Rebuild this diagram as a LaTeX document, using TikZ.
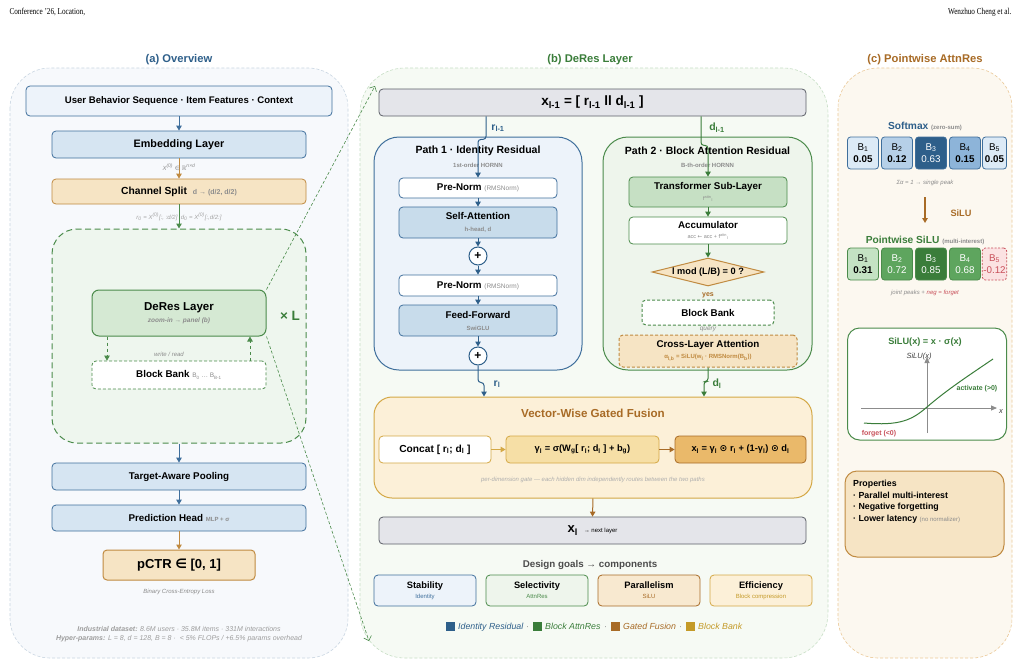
\documentclass[tikz,border=0pt]{standalone}
\usepackage{fontspec}
\setmainfont{Liberation Sans}
\newfontfamily\mysym{DejaVu Sans}
\newfontfamily\hdrfont[FakeStretch=0.8]{Liberation Serif}
\usetikzlibrary{arrows.meta,shapes.geometric}
\newcommand{\fsz}[1]{\fontsize{#1}{#1}\selectfont}
\newcommand{\tsb}[1]{\textsubscript{#1}}
\newcommand{\tsp}[1]{\textsuperscript{#1}}
\definecolor{blueD}{HTML}{2E5F8A}
\definecolor{blueB}{HTML}{3F6F9C}
\definecolor{blueF1}{HTML}{EDF3FA}
\definecolor{blueF2}{HTML}{D6E5F2}
\definecolor{blueF3}{HTML}{C8DCEB}
\definecolor{greenD}{HTML}{3A7D3A}
\definecolor{greenB}{HTML}{4B8B4B}
\definecolor{greenF0}{HTML}{EEF6EE}
\definecolor{greenF1}{HTML}{EEF5EC}
\definecolor{greenF2}{HTML}{D5E9D3}
\definecolor{greenF3}{HTML}{C6E0C4}
\definecolor{brD}{HTML}{A86B26}
\definecolor{brB}{HTML}{C08A40}
\definecolor{orF}{HTML}{F6E4C4}
\definecolor{goldB}{HTML}{D4A845}
\definecolor{goldF}{HTML}{FCF0D8}
\definecolor{gamF}{HTML}{F6DFA6}
\definecolor{xlF}{HTML}{EAB96A}
\definecolor{grayT}{HTML}{8C8C8C}
\definecolor{grayF}{HTML}{E4E5EA}
\definecolor{grayB}{HTML}{5C5F68}
\definecolor{redT}{HTML}{C8505A}
\definecolor{redF}{HTML}{FBE2E2}
\definecolor{panAf}{HTML}{F7F9FC}
\definecolor{panAb}{HTML}{C9D6E2}
\definecolor{panBf}{HTML}{F6FAF4}
\definecolor{panBb}{HTML}{C6DEC4}
\definecolor{panCf}{HTML}{FCF8F0}
\definecolor{panCb}{HTML}{EBC998}
\definecolor{goldT}{HTML}{C49A28}
\definecolor{sm1}{HTML}{DCEAF6}
\definecolor{sm2}{HTML}{B6D0E8}
\definecolor{sm4}{HTML}{8DB4D9}
\definecolor{sl1}{HTML}{C4E2C3}
\definecolor{sl2}{HTML}{5EA55E}
\begin{document}
\begin{tikzpicture}[x=1pt,y=-1pt,
  arr/.style={-{Triangle[length=5pt,width=5.5pt]}, line width=1pt},
  bx/.style={draw, rounded corners=4pt, line width=0.8pt, align=center, inner sep=1pt},
  sz/.style 2 args={minimum width=#1pt, minimum height=#2pt},
  lsk/.style={font=\fontsize{6}{#1}\selectfont},
  panel/.style={dash pattern=on 3pt off 2pt, line width=0.6pt},
  note/.style={font=\itshape\fsz{6}, text=grayT},
  ttl/.style={font=\bfseries\fsz{11.2}},
  sq/.style={minimum size=9pt, inner sep=0pt},
  leg/.style={anchor=base west, inner sep=0pt, font=\itshape\fsz{8.8}},
  val/.style={bx, rounded corners=3pt, sz={31}{32}, font=\fontsize{9.8}{12.5}\selectfont, draw=blueB}
]
\useasboundingbox[fill=white] (0,0) rectangle (1021,667);
% header
\node[anchor=west, font=\hdrfont\fsz{9}] (hl) at (6,12) {Conference ’26, Location,};
\node[anchor=east, font=\hdrfont\fsz{9}] (hr) at (1015,12) {Wenzhuo Cheng et al.};

% ================= panel (a)
\draw[panel, draw=panAb, fill=panAf, rounded corners=40pt] (10,68) rectangle (348,658);
\node[ttl, text=blueD] (ta) at (179,60) {(a) Overview};
\node[bx, sz={306}{30}, fill=blueF1, draw=blueB, font=\bfseries\fsz{9.6}] (inp) at (179,101) {User Behavior Sequence · Item Features · Context};
\node[bx, sz={254}{27}, fill=blueF2, draw=blueB, font=\bfseries\fsz{10.8}] (emb) at (179,144.5) {Embedding Layer};
\node[bx, sz={254}{25}, fill=orF, draw=brB, font=\bfseries\fsz{10.3}] (split) at (179,191.5) {Channel Split\hspace{6pt}{\fsz{7}\color{grayT}d → (d/2, d/2)}};
\node[draw=greenB, dash pattern=on 6pt off 3.5pt, line width=1pt, fill=greenF0, rounded corners=25pt, sz={254}{214}] (loop) at (179,336) {};
\node[bx, lsk=12, sz={174}{46}, fill=greenF2, draw=greenB, rounded corners=7pt, line width=1pt] (deres) at (179,313) {{\bfseries\fsz{11.5}DeRes Layer}\\{\bfseries\itshape\fsz{6.5}\color{grayT}zoom-in → panel (b)}};
\node[font=\bfseries\fsz{13.5}, text=greenD] (xL) at (290,316) {× L};
\node[bx, dash pattern=on 3pt off 2pt, sz={174}{28}, fill=white, draw=greenB] (bank) at (179,375) {{\bfseries\fsz{9.8}Block Bank} {\fsz{6.5}\color{grayT}B\tsb{0} … B\tsb{B-1}}};
\draw[arr, dashed, greenB, line width=0.8pt] ([xshift=-72pt]deres.south) -- ([xshift=-72pt]bank.north);
\draw[arr, dashed, greenB, line width=0.8pt] ([xshift=71pt]bank.north) -- ([xshift=71pt]deres.south);
\node[note] (wr) at (169,354) {write / read};
\node[bx, sz={254}{27}, fill=blueF2, draw=blueB, font=\bfseries\fsz{9.8}] (pool) at (179,476.5) {Target-Aware Pooling};
\node[bx, sz={254}{26}, fill=blueF2, draw=blueB, font=\bfseries\fsz{9.8}] (head) at (179,518) {Prediction Head {\fsz{6}\color{grayT}MLP + σ}};
\node[bx, sz={152}{30}, fill=orF, draw=brB, line width=1pt, font=\bfseries\fsz{13}] (pctr) at (179,565) {pCTR {\mysym ∈} [0, 1]};
\node[note] (bce) at (179,592) {Binary Cross-Entropy Loss};
\node[font=\itshape\fsz{7}, text=grayT!85] (ds) at (179,629) {\bfseries Industrial dataset: \mdseries 8.6M users · 35.8M items · 331M interactions};
\node[font=\itshape\fsz{7}, text=grayT!85] (hp) at (179,639) {\bfseries Hyper-params: \mdseries L = 8, d = 128, B = 8 ·\ \ < 5\% FLOPs / +6.5\% params overhead};
\draw[arr, blueB] (inp) -- (emb);
\draw[arr, brB] (emb) -- (split);
\node[font=\itshape\fsz{6}, text=grayT] (x0) at (179,167) {X\tsp{(0)} {\mysym ∈} {\mysym ℝ}\tsp{n×d}};
\draw[arr, greenB] (split) -- (loop.north);
\node[font=\itshape\fsz{6}, text=grayT!80] (r0) at (179,217) {r\tsb{0} = X\tsp{(0)}[:, :d/2]\ \ d\tsb{0} = X\tsp{(0)}[:,d/2:]};
\draw[arr, blueB] (loop.south) -- (pool);
\draw[arr, blueB] (pool) -- (head);
\draw[arr, brB] (head) -- (pctr);

% ================= panel (b)
\draw[panel, draw=panBb, fill=panBf, rounded corners=45pt] (360,68) rectangle (828,658);
\node[ttl, text=greenD] (tb) at (590,60) {(b) DeRes Layer};
\coordinate (zA) at (375,86);
\coordinate (zB) at (369,641);
\draw[greenB, dash pattern=on 3pt off 2pt, line width=0.6pt, -{Straight Barb[length=4pt]}] (deres.north east) -- (zA);
\draw[greenB, dash pattern=on 3pt off 2pt, line width=0.6pt, -{Straight Barb[length=4pt]}] (deres.south east) -- (zB);
\node[bx, sz={427}{27}, fill=grayF, draw=grayB, font=\bfseries\fsz{13.5}] (xin) at (592.5,102.5) {x\tsb{l-1} = [ r\tsb{l-1} ll d\tsb{l-1} ]};
% path 1
\node[bx, sz={208}{233}, fill=blueF1, draw=blueB, rounded corners=25pt, line width=1pt] (p1) at (478,253.5) {};
\node[font=\bfseries\fsz{10.5}] (p1t) at (478,151) {Path 1 · Identity Residual};
\node[font=\bfseries\fsz{6}, text=grayT] (p1s) at (478,165) {1st-order HORNN};
\node[bx, sz={158}{20}, fill=white, draw=blueB, font=\bfseries\fsz{9.8}] (pn1) at (478,188) {Pre-Norm {\mdseries\fsz{6.5}\color{grayT}(RMSNorm)}};
\node[bx, lsk=12, sz={158}{31}, fill=blueF3, draw=blueB] (sa) at (478,222.5) {{\bfseries\fsz{9.8}Self-Attention}\\{\bfseries\fsz{6}\color{grayT}h-head, d}};
\node[circle, draw=blueD, line width=1pt, fill=white, minimum size=18pt, inner sep=0pt, font=\bfseries\fsz{12}] (plus1) at (478,256) {+};
\node[bx, sz={158}{21}, fill=white, draw=blueB, font=\bfseries\fsz{9.8}] (pn2) at (478,285.5) {Pre-Norm {\mdseries\fsz{6.5}\color{grayT}(RMSNorm)}};
\node[bx, lsk=12, sz={158}{31}, fill=blueF3, draw=blueB] (ff) at (478,320.5) {{\bfseries\fsz{9.8}Feed-Forward}\\{\bfseries\fsz{6}\color{grayT}SwiGLU}};
\node[circle, draw=blueD, line width=1pt, fill=white, minimum size=18pt, inner sep=0pt, font=\bfseries\fsz{12}] (plus2) at (478,356) {+};
\draw[arr, blueD, rounded corners=3pt] ([xshift=-106.5pt]xin.south) -- ++(0,23) -| (pn1.north);
\node[font=\bfseries\fsz{10.5}, text=blueD] (rl1) at (498,128) {r\tsb{l-1}};
\draw[arr, blueD] (pn1) -- (sa);
\draw[arr, blueD] (sa) -- (plus1);
\draw[arr, blueD] (plus1) -- (pn2);
\draw[arr, blueD] (pn2) -- (ff);
\draw[arr, blueD] (ff) -- (plus2);
% path 2
\node[bx, sz={209}{233}, fill=greenF1, draw=greenB, rounded corners=25pt, line width=1pt] (p2) at (707.5,253.5) {};
\node[font=\bfseries\fsz{10.5}] (p2t) at (707.5,151) {Path 2 · Block Attention Residual};
\node[font=\bfseries\fsz{6}, text=grayT] (p2s) at (707.5,165) {B-th-order HORNN};
\node[bx, lsk=11, sz={158}{30}, fill=greenF3, draw=greenB] (ts) at (708,192) {{\bfseries\fsz{9.8}Transformer Sub-Layer}\\{\fsz{5.5}\color{grayT}f\tsp{attn}\tsb{l}}};
\node[bx, lsk=9.5, sz={158}{27}, fill=white, draw=greenB] (acc) at (708,230.5) {{\bfseries\fsz{9.8}Accumulator}\\{\fsz{5.5}\color{grayT}acc {\mysym ←} acc + f\tsp{attn}\tsb{l}}};
\node[diamond, draw=brB, fill=orF, line width=1pt, minimum width=112pt, minimum height=28pt, aspect=4, inner sep=0pt, font=\bfseries\fsz{9.2}] (dia) at (708,272) {l mod (L/B) = 0 ?};
\node[font=\bfseries\fsz{7}, text=brD] (yes) at (708,295) {yes};
\node[bx, dash pattern=on 3pt off 2pt, sz={132}{25}, fill=white, draw=greenB, line width=1pt, font=\bfseries\fsz{9.8}] (bb2) at (708,312.5) {Block Bank};
\node[font=\itshape\fsz{6.5}, text=grayT] (qry) at (708,329) {query};
\node[bx, lsk=11, dash pattern=on 3pt off 2pt, sz={178}{32}, fill=orF, draw=brB, line width=1pt] (cla) at (708,351) {{\bfseries\fsz{9.8}Cross-Layer Attention}\\{\bfseries\fsz{6}\color{brB}α\tsb{l,b} = SiLU(w\tsb{l} · RMSNorm(B\tsb{b}))}};
\draw[arr, greenD, rounded corners=3pt] ([xshift=108.5pt]xin.south) -- ++(0,29) -| (ts.north);
\node[font=\bfseries\fsz{10.5}, text=greenD] (dl1) at (717,128) {d\tsb{l-1}};
\draw[arr, greenD] (ts) -- (acc);
\draw[arr, greenD] (acc) -- (dia);
% fusion
\node[bx, sz={438}{101}, fill=goldF, draw=goldB, rounded corners=18pt, line width=1pt] (fusion) at (593,447.5) {};
\node[font=\bfseries\fsz{11.6}, text=brD] (ft) at (593,413) {Vector-Wise Gated Fusion};
\node[bx, sz={112}{27}, fill=white, draw=goldB, font=\bfseries\fsz{10.2}] (concat) at (435,449.5) {Concat [ r\tsb{l}; d\tsb{l} ]};
\node[bx, sz={153}{27}, fill=gamF, draw=goldB, font=\bfseries\fsz{9.3}] (gam) at (582.5,449.5) {γ\tsb{l} = σ(W\tsb{g}[ r\tsb{l}; d\tsb{l} ] + b\tsb{g})};
\node[bx, sz={131}{27}, fill=xlF, draw=brD, font=\bfseries\fsz{9.3}] (xl) at (740.5,449.5) {x\tsb{l} = γ\tsb{l} {\mysym ⊙} r\tsb{l} + (1-γ\tsb{l}) {\mysym ⊙} d\tsb{l}};
\draw[arr, goldB] (concat) -- (gam);
\draw[arr, brD] (gam) -- (xl);
\node[note, text=grayT!70] (fcap) at (593,480) {per-dimension gate — each hidden dim independently routes between the two paths};
\draw[arr, blueD, rounded corners=3pt] (plus2.south) -- ++(0,17) -| ([xshift=-109pt]fusion.north);
\node[font=\bfseries\fsz{10.5}, text=blueD] (rl) at (497,384) {r\tsb{l}};
\draw[arr, greenD, rounded corners=3pt] (cla.south) -- ++(0,14) -| ([xshift=111pt]fusion.north);
\node[font=\bfseries\fsz{10.5}, text=greenD] (dl) at (717,384) {d\tsb{l}};
\node[bx, sz={427}{27}, fill=grayF, draw=grayB] (xout) at (592.5,530.5) {{\bfseries\fsz{13}x\tsb{l}}\hspace{6pt}{\fsz{6}→ next layer}};
\draw[arr, brD] (fusion.south) -- (xout.north);
\node[font=\bfseries\fsz{9.8}, text=black!70] (dg) at (590,565) {Design goals → components};
\node[bx, lsk=10, sz={102}{31}, fill=blueF1, draw=blueB] (g1) at (425,590.5) {{\bfseries\fsz{9.3}Stability}\\{\fsz{6}\color{blueB}Identity}};
\node[bx, lsk=10, sz={102}{31}, fill=greenF1, draw=greenB] (g2) at (537,590.5) {{\bfseries\fsz{9.3}Selectivity}\\{\fsz{6}\color{greenB}AttnRes}};
\node[bx, lsk=10, sz={102}{31}, fill=orF!80, draw=brD] (g3) at (649,590.5) {{\bfseries\fsz{9.3}Parallelism}\\{\fsz{6}\color{brD}SiLU}};
\node[bx, lsk=10, sz={102}{31}, fill=goldF, draw=goldB] (g4) at (761,590.5) {{\bfseries\fsz{9.3}Efficiency}\\{\fsz{6}\color{goldT}Block compression}};
% legend
\node[sq, fill=blueD] (s1) at (450.5,626.5) {};
\node[leg, text=blueD] (l1) at (458,629.5) {Identity Residual};
\node[leg, text=grayT] (d1) at (526,629.5) {·};
\node[sq, fill=greenD] (s2) at (537.5,626.5) {};
\node[leg, text=greenD] (l2) at (545,629.5) {Block AttnRes};
\node[leg, text=grayT] (d2) at (604,629.5) {·};
\node[sq, fill=brD] (s3) at (615.5,626.5) {};
\node[leg, text=brD] (l3) at (623,629.5) {Gated Fusion};
\node[leg, text=grayT] (d3) at (679,629.5) {·};
\node[sq, fill=goldT] (s4) at (690.5,626.5) {};
\node[leg, text=goldT] (l4) at (698,629.5) {Block Bank};

% ================= panel (c)
\draw[panel, draw=panCb, fill=panCf, rounded corners=40pt] (838,68) rectangle (1012,658);
\node[ttl, text=brD] (tc) at (925,60) {(c) Pointwise AttnRes};
\node[font=\bfseries\fsz{10.2}, text=blueD] (smx) at (925,126) {Softmax {\fsz{6}\color{grayT}(zero-sum)}};
\node[val, fill=sm1] (a1) at (863,153) {B\tsb{1}\\\bfseries 0.05};
\node[val, fill=sm2] (a2) at (897,153) {B\tsb{2}\\\bfseries 0.12};
\node[val, fill=blueD, text=white] (a3) at (931,153) {B\tsb{3}\\0.63};
\node[val, fill=sm4] (a4) at (965,153) {B\tsb{4}\\\bfseries 0.15};
\node[val, fill=sm1, sz={24}{32}] (a5) at (994.5,153) {B\tsb{5}\\\bfseries 0.05};
\node[note] (sig) at (925,183) {Σα = 1 → single peak};
\coordinate (c1) at (925,197);
\coordinate (c2) at (925,223);
\draw[arr, brD, line width=1.3pt] (c1) -- (c2);
\node[font=\bfseries\fsz{9.2}, text=brD] (silu) at (961,213) {SiLU};
\node[font=\bfseries\fsz{10.2}, text=greenD] (psl) at (925,240) {Pointwise SiLU {\fsz{6}\color{grayT}(multi-interest)}};
\node[val, fill=sl1, draw=greenB] (b1) at (863,264) {B\tsb{1}\\\bfseries 0.31};
\node[val, fill=sl2, draw=greenB, text=white] (b2) at (897,264) {B\tsb{2}\\0.72};
\node[val, fill=greenD, draw=greenB, text=white] (b3) at (931,264) {B\tsb{3}\\0.85};
\node[val, fill=sl2, draw=greenB, text=white] (b4) at (965,264) {B\tsb{4}\\0.68};
\node[val, fill=redF, draw=redT, text=redT, dash pattern=on 2pt off 1.5pt, sz={24}{32}] (b5) at (994.5,264) {B\tsb{5}\\-0.12};
\node[note] (jp) at (925,293) {joint peaks + {\color{redT}neg = forget}};
% SiLU plot
\node[bx, sz={159}{112}, fill=white, draw=greenB, rounded corners=12pt, line width=1pt] (plot) at (927,384) {};
\node[font=\bfseries\fsz{9.2}, text=greenD] (pt) at (925,342) {SiLU(x) = x · σ(x)};
\coordinate (yb) at (927,433);
\coordinate (yt) at (927,357);
\coordinate (xb) at (861,408);
\coordinate (xt) at (997,408);
\draw[black!45, line width=0.8pt, -{Triangle[length=6pt,width=5pt]}] (yb) -- (yt);
\draw[black!45, line width=0.8pt, -{Triangle[length=6pt,width=5pt]}] (xb) -- (xt);
\node[font=\itshape\fsz{7.5}, text=black!75] (ylab) at (919,357) {SiLU(x)};
\node[font=\itshape\fsz{7.5}, text=black!75] (xlab) at (1001,412) {x};
\draw[greenD, line width=1pt] (864,423) .. controls (900,426) and (912,420) .. (927,407) .. controls (948,389) and (968,376) .. (993,359);
\node[font=\bfseries\fsz{7}, text=greenD] (act) at (977,389) {activate (>0)};
\node[font=\bfseries\fsz{7}, text=redT] (fgt) at (879,434) {forget (<0)};
% properties
\node[bx, sz={159}{86}, fill=orF, draw=brB, rounded corners=12pt, line width=1pt] (prop) at (924.5,514) {};
\node[anchor=north west, align=left, inner sep=0pt, font=\bfseries\fontsize{8.8}{11.5}\selectfont] (ptx) at (853,480) {Properties\\· Parallel multi-interest\\· Negative forgetting\\· Lower latency {\mdseries\fsz{6}\color{grayT}(no normalizer)}};
\end{tikzpicture}
\end{document}
